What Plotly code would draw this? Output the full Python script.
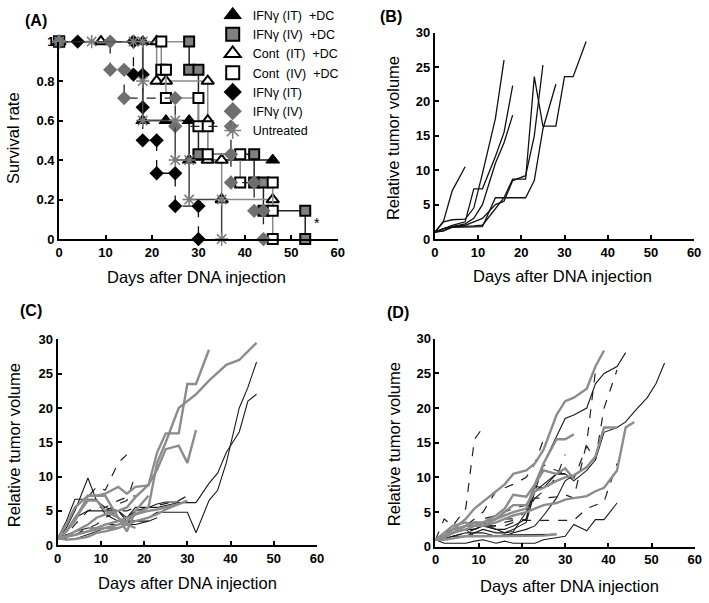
import plotly.graph_objects as go

# ---------------- Panel A: survival (Kaplan-Meier step vertices) ----------------
IT_DC_days = [0, 18, 18, 23, 28, 28, 46]
IT_DC_surv = [1, 1, 0.6, 0.6, 0.6, 0.4, 0.4]
IV_DC_days = [0, 28, 28, 30, 30, 42, 42, 44, 44, 53, 53]
IV_DC_surv = [1, 1, 0.857, 0.857, 0.429, 0.429, 0.286, 0.286, 0.143, 0.143, 0]
CONT_IT_DC_days = [0, 9, 21, 21, 23, 32, 32, 32, 35, 35, 46]
CONT_IT_DC_surv = [1, 1, 1, 0.8, 0.8, 0.8, 0.6, 0.4, 0.4, 0.2, 0.2]
CONT_IV_DC_days = [0, 22, 22, 23, 23, 30, 30, 32, 32, 39, 39, 46, 46, 46]
CONT_IV_DC_surv = [1, 1, 0.857, 0.857, 0.714, 0.714, 0.571, 0.571, 0.429, 0.429, 0.286, 0.286, 0.143, 0]
IFN_IT_days = [0, 4, 16, 16, 18, 18, 18, 21, 21, 25, 25, 30, 30]
IFN_IT_surv = [1, 1, 1, 0.833, 0.833, 0.667, 0.5, 0.5, 0.333, 0.333, 0.167, 0.167, 0]
IFN_IV_days = [0, 11, 11, 14, 14, 25, 25, 37, 37, 37, 42, 42, 44, 44]
IFN_IV_surv = [1, 1, 0.857, 0.857, 0.714, 0.714, 0.571, 0.571, 0.429, 0.286, 0.286, 0.143, 0.143, 0]
UNTR_days = [0, 7, 16, 18, 18, 18, 25, 25, 28, 28, 35, 35]
UNTR_surv = [1, 1, 1, 1, 0.8, 0.6, 0.6, 0.4, 0.4, 0.2, 0.2, 0]

# ---------------- tick labels ----------------
X_TICKS = [0, 10, 20, 30, 40, 50, 60]
X_TICK_LABELS = ["0", "10", "20", "30", "40", "50", "60"]
SURV_TICKS = [0, 0.2, 0.4, 0.6, 0.8, 1]
SURV_TICK_LABELS = ["0", "0.2", "0.4", "0.6", "0.8", "1"]
VOL_TICKS = [0, 5, 10, 15, 20, 25, 30]
VOL_TICK_LABELS = ["0", "5", "10", "15", "20", "25", "30"]

# ---------------- measurement days for tumour volume panels ----------------
DAYS = [0, 2, 4, 7, 9, 11, 14, 16, 18, 21, 23, 25, 28, 30, 32, 35, 37, 39, 42, 44, 46, 49, 51, 53]

# Panel B (black solid)
B1 = [1, 2.6, 7, 10.5]
B2 = [1, 2.5, 2.8, 2.9, 4.5, 9.5, 17.5, 26]
B3 = [1, 1.5, 2, 2.5, 7.3, 7.3, 12, 15.5, 22.3]
B4 = [1, 1.2, 1.8, 2.2, 3, 5, 11, 14, 18]
B5 = [1, 1.5, 1.8, 1.8, 1.9, 2, 4.5, 6, 8.7, 8.7, 23.6, 16.4, 16.4, 23.6, 23.6, 28.7]
B6 = [1, 1.2, 1.7, 1.7, 1.8, 1.8, 6, 6, 6, 6, 8.5, 16, 22.5]
B7 = [1, 1.5, 1.8, 2, 2.5, 3, 5, 5.5, 8.5, 9.2, 15, 25.3]

# Panel C
C_grey = [
    [1, 3, 5.5, 7.2, 7.2, 7.5, 8.5, 7.5, 8.5, 8.7, 13.5, 16.3, 16.3, 23.5, 23.5, 28.5],
    [1, 1.2, 1.5, 2, 2.5, 3, 3.5, 4, 4.5, 5.5, 12, 15, 20, 21, 22, 24, 25.2, 26.3, 27, 28.3, 29.5],
    [1, 1.3, 2, 3, 4, 4.5, 5, 5.5, 7, 8.8, 11, 14, 14.5, 12, 16.8],
    [1, 2, 4, 6.5, 6.5, 5, 4, 2, 5, 7.2],
    [1, 1.2, 1.5, 2, 2.2, 2.5, 3, 3.5, 4.5, 5, 5.2, 5.5, 6, 6.5],
    [1, 0.8, 0.9, 1.2, 1.8, 2, 2.5, 3, 3.5, 4, 4.5, 5.2, 6],
    [1, 2, 3.5, 7.2, 7.2, 7.2, 4, 3, 2.5],
]
C_black = [
    [1, 2.5, 5, 9.8, 6.5, 5.5, 5, 3.5, 3.5],
    [1, 3.5, 6.7, 6.7, 6.7, 4.5, 3.5, 3.5, 3.5, 3.5],
    [1, 1.5, 2, 2.5, 2.5, 3, 3, 3.2, 3.5, 4, 4.8, 4.8, 4.8, 4.8, 1.8, 6.5, 8, 12, 20, 23, 26.7],
    [1, 1.2, 1.5, 2, 2.5, 3, 3.5, 4, 5, 5.5, 5.5, 5.8, 6.2, 6.2, 6.2, 9, 10.5, 13.5, 16.5, 21, 22],
    [1, 0.8, 0.9, 1.5, 2, 2.5, 2.5, 3, 3, 3.5, 4],
    [1, 2, 4, 5, 5, 5, 5, 4, 5.5, 5.5, 6, 6.3, 6.3],
]
C_dash = [
    [1, 2, 4, 7, 8.5, 8, 12, 13.2],
    [1, 1.5, 2, 3, 4, 5, 6, 6.5, 10.3],
    [1, 1.5, 3, 5, 5.5, 5.5, 6.5, 7, 7.2],
    [1, 1.2, 1.5, 2, 2.5, 3, 3.5, 4, 4.5, 5.5, 5.8, 6, 6.5, 7.2],
    [1, 1, 1.5, 2.5, 3, 4, 5, 5, 5.5],
]

# Panel D
D_grey = [
    [1, 1.5, 2.5, 4, 5.5, 6.5, 8, 9, 10.5, 11, 12, 14, 19, 21, 21.5, 22.8, 26, 28.3],
    [1, 1.5, 2, 2.5, 3, 3, 3.5, 4, 4.5, 5, 5.5, 6, 6.3, 6.8, 7, 7.3, 8, 8.5, 11, 17.2, 18],
    [1, 1.3, 2, 3, 3.5, 3, 4, 5, 6, 6, 8, 8.5, 9.5, 10, 10.3, 11.5, 13, 17.2, 17.2],
    [1, 1.5, 2.5, 3, 3.5, 3.5, 4, 4.5, 5, 5.5, 9, 12, 15.5, 15.5, 16.2],
    [1, 2, 3, 3.5, 3, 3.5, 4.5, 5.5, 7.5, 7.2, 9, 11, 10.5, 11.3, 9.8],
    [1, 1, 1.2, 1.5, 1.5, 1.5, 1.5, 1.5, 1.5, 1.5, 1.6, 1.6, 1.8],
]
D_black = [
    [1, 1.5, 2, 2.5, 2.5, 3, 2.5, 2.5, 3, 4, 9, 12, 16, 18.5, 19, 20, 23.5, 25, 26, 28],
    [1, 1, 1.5, 2, 2, 2.5, 2, 2, 2.5, 3.5, 8, 9, 10.5, 10.5, 9.5, 11, 12.5, 16.5, 17.2, 18, 19.5, 21.5, 23.5, 26.5],
    [1, 0.5, 0.5, 0.5, 0.8, 1, 0.5, 0.8, 0.5, 0.5, 0.5, 1, 1.3, 1.5, 3.2, 2.3, 3.9, 3.9, 6.3],
    [1, 2, 2.5, 3, 3, 3.5, 2.5, 2, 2.2, 5, 8.7, 8.5, 10.5, 10.5],
    [1, 1.5, 2, 2.5, 1.5, 1.5, 1.5, 1.7, 1.7, 1.8, 1.8, 1.8, 1.8],
    [1, 1.2, 1.5, 1.5, 2, 2, 1.5, 1.5, 2, 2.5, 3, 4.5, 7, 9.5, 10.3],
]
D_dash = [
    [1, 4, 3, 5.5, 15.5, 17.2],
    [1, 1.5, 2.5, 3, 4, 5, 8, 8.5, 9, 10, 12, 15.5],
    [1, 1, 1.5, 2, 2.5, 3, 3, 3, 3.5, 4, 8, 11.8, 11, 10.5, 9.8, 14.5, 12.5, 20, 25.5],
    [1, 1.5, 2, 2.5, 3, 3, 3.5, 4, 4, 5, 7, 7, 7.2, 7.5, 7, 15, 25.3],
    [1, 1.5, 2, 2.5, 2.5, 3, 3, 3.5, 3.8, 3.8, 3.8, 3.8, 3.8, 3.8, 3.8, 5.5, 6, 6.5, 12],
    [1, 1.5, 2, 3, 3.5, 4, 4.5, 5, 5.5, 6, 7, 8, 10, 13.3],
]

LEGEND_NAMES = ["IFNγ (IT)  +DC", "IFNγ (IV)  +DC", "Cont  (IT)  +DC", "Cont  (IV)  +DC",
                "IFNγ (IT)", "IFNγ (IV)", "Untreated"]

FONT = "Liberation Sans, Arial, sans-serif"
fig = go.Figure()

# ---- Panel A traces ----
groups = [
    (IT_DC_days, IT_DC_surv, dict(symbol="triangle-up", size=12, color="black", line=dict(color="black", width=1)),
     dict(color="#111", width=1.5, dash="solid")),
    (IV_DC_days, IV_DC_surv, dict(symbol="square", size=10, color="#808080", line=dict(color="black", width=2)),
     dict(color="#222", width=1.5, dash="solid")),
    (CONT_IT_DC_days, CONT_IT_DC_surv, dict(symbol="triangle-up", size=11, color="white", line=dict(color="black", width=2)),
     dict(color="#8a8a8a", width=1.5, dash="solid")),
    (CONT_IV_DC_days, CONT_IV_DC_surv, dict(symbol="square", size=10, color="white", line=dict(color="black", width=2)),
     dict(color="#8a8a8a", width=1.5, dash="solid")),
    (IFN_IT_days, IFN_IT_surv, dict(symbol="diamond", size=11, color="black", line=dict(width=0)),
     dict(color="#111", width=1.3, dash="dash")),
    (IFN_IV_days, IFN_IV_surv, dict(symbol="diamond", size=11, color="#6e6e6e", line=dict(width=0)),
     dict(color="#222", width=1.3, dash="dash")),
    (UNTR_days, UNTR_surv, dict(symbol="asterisk-open", size=11, color="#7a7a7a", line=dict(color="#7a7a7a", width=1.5)),
     dict(color="#444", width=1.5, dash="solid")),
]
for (xd, yd, mk, ln), name in zip(groups, LEGEND_NAMES):
    fig.add_trace(go.Scatter(x=xd, y=yd, mode="lines+markers", marker=mk, line=ln,
                             xaxis="x", yaxis="y", showlegend=False, cliponaxis=False, hoverinfo="skip"))
    leg_mk = dict(mk, size=mk["size"] + 3)
    fig.add_trace(go.Scatter(x=[None], y=[None], mode="markers", marker=leg_mk, name=name,
                             xaxis="x", yaxis="y", showlegend=True))

# ---- Panel B ----
for s in [B1, B2, B3, B4, B5, B6, B7]:
    fig.add_trace(go.Scatter(x=DAYS[:len(s)], y=s, mode="lines", line=dict(color="#111", width=1.3),
                             xaxis="x2", yaxis="y2", showlegend=False, hoverinfo="skip"))

# ---- Panels C and D ----
def add_panel(greys, blacks, dashes, xa, ya):
    for s in dashes:
        fig.add_trace(go.Scatter(x=DAYS[:len(s)], y=s, mode="lines",
                                 line=dict(color="#222", width=1.2, dash="dash"),
                                 xaxis=xa, yaxis=ya, showlegend=False, hoverinfo="skip"))
    for s in blacks:
        fig.add_trace(go.Scatter(x=DAYS[:len(s)], y=s, mode="lines",
                                 line=dict(color="#1a1a1a", width=1.1),
                                 xaxis=xa, yaxis=ya, showlegend=False, hoverinfo="skip"))
    for s in greys:
        fig.add_trace(go.Scatter(x=DAYS[:len(s)], y=s, mode="lines",
                                 line=dict(color="#8c8c8c", width=2.4),
                                 xaxis=xa, yaxis=ya, showlegend=False, hoverinfo="skip"))

add_panel(C_grey, C_black, C_dash, "x3", "y3")
add_panel(D_grey, D_black, D_dash, "x4", "y4")

W, H = 709, 603
def px(xp):
    return xp / W
def py(yp):
    return 1 - yp / H

def bold(labels):
    return [f"<b>{t}</b>" for t in labels]

axis_common = dict(showline=True, linecolor="black", linewidth=2, ticks="inside", ticklen=4,
                   tickwidth=1.5, tickcolor="black", showgrid=False, zeroline=False,
                   tickmode="array",
                   tickfont=dict(family=FONT, size=13, color="black"))
xax = dict(axis_common, range=[0, 60], tickvals=X_TICKS, ticktext=bold(X_TICK_LABELS))
yA = dict(axis_common, range=[0, 1], tickvals=SURV_TICKS, ticktext=bold(SURV_TICK_LABELS))
yV = dict(axis_common, range=[0, 30], tickvals=VOL_TICKS, ticktext=bold(VOL_TICK_LABELS))

fig.update_layout(
    width=W, height=H, margin=dict(l=0, r=0, t=0, b=0),
    paper_bgcolor="white", plot_bgcolor="white", hovermode=False,
    font=dict(family=FONT, color="black"),
    xaxis=dict(xax, domain=[px(56), px(339)], anchor="y"),
    yaxis=dict(yA, domain=[py(236.7), py(33.5)], anchor="x"),
    xaxis2=dict(xax, domain=[px(437.7), px(701)], anchor="y2"),
    yaxis2=dict(yV, domain=[py(236.7), py(24.3)], anchor="x2"),
    xaxis3=dict(xax, domain=[px(54.5), px(318)], anchor="y3"),
    yaxis3=dict(yV, domain=[py(551.7), py(340)], anchor="x3"),
    xaxis4=dict(xax, domain=[px(438.3), px(701.7)], anchor="y4"),
    yaxis4=dict(yV, domain=[py(553.3), py(339.3)], anchor="x4"),
    legend=dict(x=px(212), y=py(-9), xanchor="left", yanchor="top", bgcolor="rgba(0,0,0,0)",
                font=dict(family=FONT, size=12.5, color="black"), tracegroupgap=0,
                itemsizing="trace"),
    showlegend=True,
)

ann = []
def label(text, x, y, size=16.5, is_bold=False, angle=0):
    ann.append(dict(text=f"<b>{text}</b>" if is_bold else text, x=px(x), y=py(y), xref="paper", yref="paper",
                    showarrow=False, xanchor="center", yanchor="middle", textangle=angle,
                    font=dict(family=FONT, size=size, color="black")))

label("(A)", 32, 12, 16, True)
label("(B)", 393, 8, 16, True)
label("(C)", 27.5, 310, 16, True)
label("(D)", 400, 312, 16, True)
label("Survival rate", 9, 133, 16.5, angle=-90)
label("Relative tumor volume", 395, 133, 16.5, angle=-90)
label("Relative tumor volume", 10, 449, 16.5, angle=-90)
label("Relative tumor volume", 397, 448, 16.5, angle=-90)
label("Days after DNA injection", 196, 276, 16.5)
label("Days after DNA injection", 567, 275, 16.5)
label("Days after DNA injection", 186, 591, 16.5)
label("Days after DNA injection", 574, 594, 16.5)
ann.append(dict(text="*", x=55.5, y=0.08, xref="x", yref="y", showarrow=False,
                font=dict(family=FONT, size=14, color="black")))
fig.update_layout(annotations=ann)

fig.write_html("out.html", config={"displayModeBar": False},
               post_script="document.body.style.margin='0px';document.body.style.padding='0px';")
